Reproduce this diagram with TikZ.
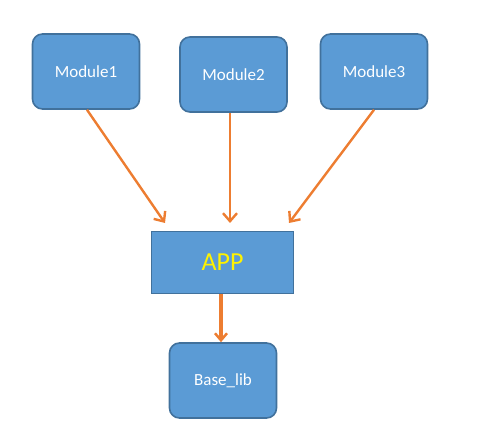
\documentclass[tikz,border=0pt]{standalone}
\usepackage{fontspec}
\setmainfont{Carlito}
\usetikzlibrary{arrows.meta}
\definecolor{boxfill}{HTML}{5B9BD5}
\definecolor{boxline}{HTML}{41719C}
\definecolor{arr}{HTML}{ED7D31}
\begin{document}
\begin{tikzpicture}[x=1pt,y=-1pt,
  modbox/.style={draw=boxline,line width=1.6pt,fill=boxfill,rounded corners=10pt,
    minimum width=107pt,minimum height=75pt,inner sep=0pt,text=white,font=\fontsize{17}{20}\selectfont},
  appbox/.style={draw=boxline,line width=1.6pt,fill=boxfill,
    minimum width=142pt,minimum height=62pt,inner sep=0pt,text=yellow,font=\fontsize{26}{30}\selectfont},
  conn/.style={draw=arr,line width=2.4pt,-{Straight Barb[length=8pt,width=14pt,line width=2.4pt]}},
  thickconn/.style={draw=arr,line width=4.5pt,-{Straight Barb[length=7pt,width=12pt,line width=2.5pt]}}]
\useasboundingbox (0,0) rectangle (495,446);
\node[modbox] (m1) at (86,71.5) {Module1};
\node[modbox] (m2) at (233.5,74.5) {Module2};
\node[modbox] (m3) at (374,71.5) {Module3};
\node[appbox] (app) at (222.5,262.5) {APP};
\node[modbox] (base) at (223,380.5) {Base\_lib};
\coordinate (t1) at (165,223);
\coordinate (t2) at (230,223);
\coordinate (t3) at (289,223);
\draw[conn] (m1.south) ++(1,0) coordinate (s1) -- (t1);
\draw[conn] (m2.south) ++(-3.5,0) -- (t2);
\draw[conn] (m3.south) -- (t3);
\draw[thickconn] (app.south) ++(-1.5,0) -- (base.north -| 221,0);
\end{tikzpicture}
\end{document}
